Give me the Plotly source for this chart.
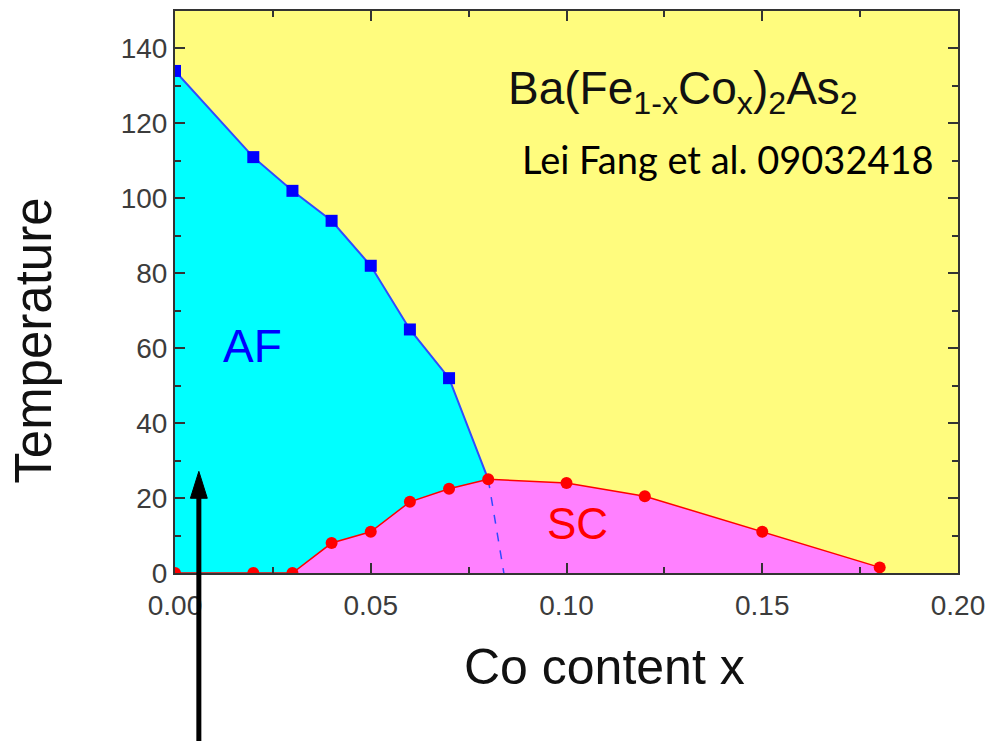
import plotly.graph_objects as go

# ---- data ----
af_x = [0.00, 0.02, 0.03, 0.04, 0.05, 0.06, 0.07]
af_y = [134, 111, 102, 94, 82, 65, 52]
af_end_x = [0.08]
af_end_y = [25]
dash_x = [0.08, 0.084]
dash_y = [25, 0]
sc_x = [0.00, 0.02, 0.03, 0.04, 0.05, 0.06, 0.07, 0.08, 0.10, 0.12, 0.15, 0.18]
sc_y = [0, 0, 0, 8, 11, 19, 22.5, 25, 24, 20.5, 11, 1.5]
x_ticks = [0.00, 0.05, 0.10, 0.15, 0.20]
x_tick_labels = ["0.00", "0.05", "0.10", "0.15", "0.20"]
y_ticks = [0, 20, 40, 60, 80, 100, 120, 140]

YELLOW = "#FFFC7E"
CYAN = "#00FFFF"
PINK = "#FF80FF"
BLUE = "#0000FF"
BLUE_LINE = "#2F4BFF"
RED = "#FF0000"
ARIAL = "Liberation Sans, Arial, sans-serif"

fig = go.Figure()

# AF region (cyan)
fig.add_trace(go.Scatter(
    x=af_x + af_end_x + [dash_x[-1], af_x[0]],
    y=af_y + af_end_y + [dash_y[-1], 0],
    fill="toself", fillcolor=CYAN, line=dict(width=0), mode="lines",
    hoverinfo="skip", showlegend=False))

# SC region (pink)
fig.add_trace(go.Scatter(
    x=sc_x[2:] + [sc_x[-1]],
    y=sc_y[2:] + [0],
    fill="toself", fillcolor=PINK, line=dict(width=0), mode="lines",
    hoverinfo="skip", showlegend=False))

# dashed continuation of AF boundary
fig.add_trace(go.Scatter(
    x=dash_x, y=dash_y, mode="lines",
    line=dict(color=BLUE_LINE, width=1.5, dash="dash"),
    showlegend=False))

# AF boundary line
fig.add_trace(go.Scatter(
    x=af_x + af_end_x, y=af_y + af_end_y, mode="lines",
    line=dict(color=BLUE_LINE, width=2), showlegend=False))

# SC line + markers
fig.add_trace(go.Scatter(
    x=sc_x, y=sc_y, mode="lines+markers",
    line=dict(color=RED, width=1.5),
    marker=dict(symbol="circle", size=12, color=RED),
    showlegend=False))

# AF markers
fig.add_trace(go.Scatter(
    x=af_x, y=af_y, mode="markers",
    marker=dict(symbol="square", size=12, color=BLUE),
    showlegend=False))

axis_common = dict(
    showgrid=False, zeroline=False, showline=True, linecolor="#333333",
    linewidth=2, mirror="ticks", ticks="inside", ticklen=10, tickwidth=2,
    tickcolor="#333333",
    tickfont=dict(family=ARIAL, size=28, color="#3c3c3c"),
)

fig.update_xaxes(
    range=[0, 0.2], tickvals=x_ticks, ticktext=x_tick_labels,
    ticklabelstandoff=6,
    minor=dict(dtick=0.025, ticks="inside", ticklen=6, tickwidth=2, tickcolor="#333333"),
    **axis_common)
fig.update_yaxes(
    range=[0, 150], tickvals=y_ticks,
    minor=dict(dtick=10, ticks="inside", ticklen=6, tickwidth=2, tickcolor="#333333"),
    **axis_common)

annotations = [
    dict(text="AF", x=0.0198, y=60.5, xref="x", yref="y", showarrow=False,
         font=dict(family=ARIAL, size=46, color=BLUE)),
    dict(text="SC", x=0.1027, y=13.2, xref="x", yref="y", showarrow=False,
         font=dict(family=ARIAL, size=44, color=RED)),
    dict(text="Ba(Fe<sub>1-x</sub>Co<sub>x</sub>)<sub>2</sub>As<sub>2</sub>",
         x=(508 - 175) / 788, y=(573 - 90) / 564, xref="paper", yref="paper",
         xanchor="left", yanchor="middle", showarrow=False,
         font=dict(family=ARIAL, size=46, color="#111111")),
    dict(text="Lei Fang et al. 09032418",
         x=(522 - 175) / 788, y=(573 - 158) / 564, xref="paper", yref="paper",
         xanchor="left", yanchor="middle", showarrow=False,
         font=dict(family="Lato, Open Sans, sans-serif", size=38, color="#000000")),
    dict(text="Temperature", textangle=-90,
         x=(33 - 175) / 788, y=(573 - 340) / 564, xref="paper", yref="paper",
         xanchor="center", yanchor="middle", showarrow=False,
         font=dict(family=ARIAL, size=51, color="#111111")),
    dict(text="Co content x",
         x=(607 - 175) / 788, y=(573 - 667) / 564, xref="paper", yref="paper",
         xanchor="center", yanchor="middle", showarrow=False,
         font=dict(family=ARIAL, size=50, color="#111111")),
]

# black arrow (pixel positions converted to paper coordinates)
def px(xp):
    return (xp - 175) / 788

def py(yp):
    return (573 - yp) / 564

shapes = [
    dict(type="line", xref="paper", yref="paper",
         x0=px(199), x1=px(199), y0=py(745), y1=py(494),
         line=dict(color="black", width=5)),
    dict(type="path", xref="paper", yref="paper",
         path=f"M {px(190.5)} {py(498)} L {px(199)} {py(471)} L {px(207.5)} {py(498)} Z",
         fillcolor="black", line=dict(color="black", width=1)),
]

fig.update_layout(
    width=994, height=741,
    margin=dict(l=175, r=31, t=9, b=168),
    plot_bgcolor=YELLOW, paper_bgcolor="white",
    annotations=annotations, shapes=shapes,
    showlegend=False,
)

fig.write_html("out.html")
